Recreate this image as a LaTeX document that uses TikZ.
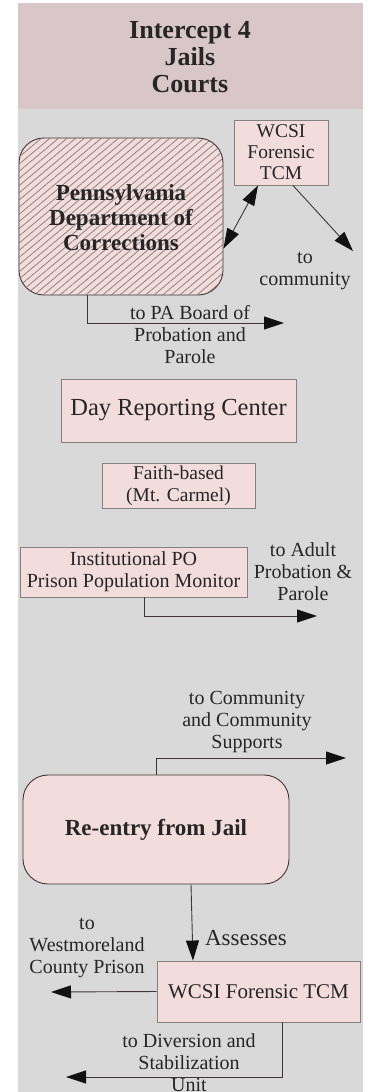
\documentclass[tikz,border=0pt]{standalone}
\usepackage{fontspec}
\setmainfont{Liberation Serif}
\usetikzlibrary{arrows.meta,patterns.meta}
\definecolor{panelgrey}{HTML}{D9D9D9}
\definecolor{titlepink}{HTML}{D9C6C8}
\definecolor{boxpink}{HTML}{F2DCDC}
\definecolor{boxedge}{HTML}{858080}
\definecolor{darkedge}{HTML}{3E3636}
\definecolor{hatchcol}{HTML}{8A7C7E}
\definecolor{txt}{HTML}{262626}
\definecolor{headcol}{HTML}{111111}
\tikzset{
  sqbox/.style={draw=boxedge, line width=0.9pt, fill=boxpink, inner sep=0pt, align=center, text=txt},
  rndbox/.style={draw=darkedge, line width=0.9pt, fill=boxpink, rounded corners=25pt, inner sep=0pt, align=center, text=txt},
  lbl/.style={align=center, text=txt, inner sep=0pt, font=\fontsize{20}{22}\selectfont},
  conn/.style={draw=darkedge, line width=0.9pt, -{Triangle[length=20pt,width=13pt,color=headcol]}},
  dconn/.style={draw=darkedge, line width=0.9pt, {Triangle[length=20pt,width=13pt,color=headcol]}-{Triangle[length=20pt,width=13pt,color=headcol]}}
}
\begin{document}
\begin{tikzpicture}[x=1pt,y=-1pt]
\useasboundingbox (0,0) rectangle (370,1092);
\fill[white] (0,0) rectangle (370,1092);
% panel
\fill[panelgrey] (18,3) rectangle (363,1092);
\fill[titlepink] (18,3) rectangle (363,109);
\node[lbl, font=\bfseries\fontsize{26}{27}\selectfont] (title) at (190,57) {Intercept 4\\Jails\\Courts};
% boxes
\node[sqbox, minimum width=94pt, minimum height=65pt, font=\fontsize{19.5}{21}\selectfont] (wcsia) at (281,152.5) {WCSI\\Forensic\\TCM};
\node[rndbox, minimum width=204pt, minimum height=157pt,
  postaction={pattern={Lines[angle=40,distance=5.5pt,line width=0.75pt]}, pattern color=hatchcol}] (doc) at (121,216.5) {};
\node[lbl, font=\bfseries\fontsize{23}{25}\selectfont] (doctext) at (121,218) {Pennsylvania\\Department of\\Corrections};
\node[sqbox, minimum width=235pt, minimum height=63pt, font=\fontsize{24.5}{26}\selectfont] (day) at (178.5,410.5) {Day Reporting Center};
\node[sqbox, minimum width=153pt, minimum height=45pt, font=\fontsize{19.5}{22}\selectfont] (faith) at (178.5,485.5) {Faith-based\\(Mt. Carmel)};
\node[sqbox, minimum width=227pt, minimum height=50pt, font=\fontsize{20}{22}\selectfont] (inst) at (133.5,572) {Institutional PO\\Prison Population Monitor};
\node[rndbox, minimum width=266pt, minimum height=109pt, font=\bfseries\fontsize{23}{25}\selectfont] (reentry) at (156,829.5) {Re-entry from Jail};
\node[sqbox, minimum width=203pt, minimum height=61pt, font=\fontsize{21}{23}\selectfont] (wcsib) at (258.5,991.5) {WCSI Forensic TCM};
% labels
\node[lbl] (lcomm) at (305,271) {to\\community};
\node[lbl] (lpa) at (190,335) {to PA Board of\\Probation and\\Parole};
\node[lbl] (ladult) at (303,572) {to Adult\\Probation \&\\Parole};
\node[lbl] (lsupp) at (247,722) {to Community\\and Community\\Supports};
\node[lbl, font=\fontsize{23}{25}\selectfont] (lass) at (246,938) {Assesses};
\node[lbl] (lwest) at (87,948) {to\\Westmoreland\\County Prison};
\node[lbl] (ldiv) at (189,1063) {to Diversion and\\Stabilization\\Unit};
% connector ends
\coordinate (ecomm) at (353,251);
\coordinate (epa) at (284,323);
\coordinate (eadult) at (317,616);
\coordinate (esupp) at (346,758);
\coordinate (ewest) at (51,992);
\coordinate (ediv) at (66,1077);
% connectors
\draw[dconn] ([yshift=-32pt]doc.east) -- ([xshift=-23pt]wcsia.south);
\draw[conn] ([xshift=12pt]wcsia.south) -- (ecomm);
\draw[conn] ([xshift=-34pt]doc.south) |- (epa);
\draw[conn] ([xshift=10.5pt]inst.south) |- (eadult);
\draw[conn] (reentry.north) |- (esupp);
\draw[conn] ([xshift=35pt]reentry.south) -- ([xshift=-65.5pt]wcsib.north);
\draw[conn] (wcsib.west) -- (ewest);
\draw[conn] ([xshift=23.5pt]wcsib.south) |- (ediv);
\end{tikzpicture}
\end{document}
